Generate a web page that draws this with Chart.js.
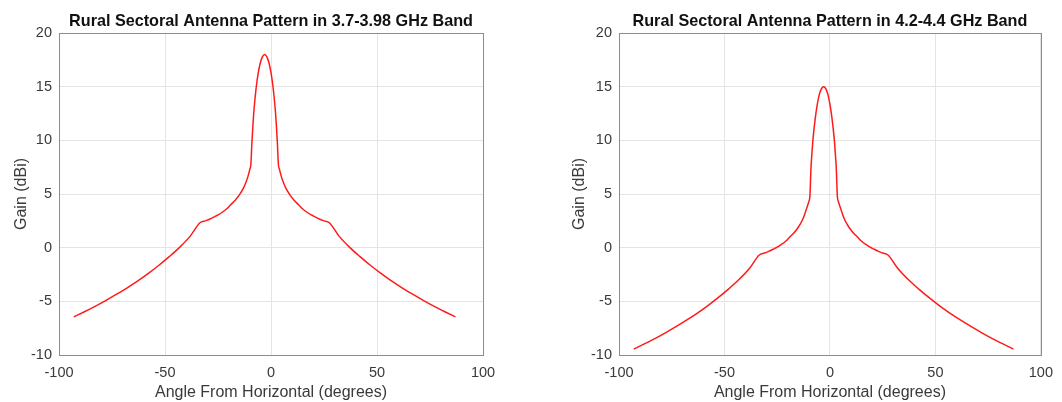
<!DOCTYPE html>
<html lang="en">

<head>
    <meta charset="UTF-8">
    <script src="https://cdn.jsdelivr.net/npm/chart.js"></script>
    <title>Rural Sectoral Antenna Pattern</title>
    <style>
        body { margin: 0; background: #fff; }
        .painel { position: absolute; top: 0; width: 531px; height: 402px; }
    </style>
</head>

<body>
    <div class="painel" style="left:0"><canvas id="chartLow" width="531" height="402"></canvas></div>
    <div class="painel" style="left:531px"><canvas id="chartHigh" width="531" height="402"></canvas></div>

<script>
    // elevation angle (deg), pattern tilted about -3 deg
    const angles = [-93, -88, -83, -78, -73, -68, -63, -58, -53, -48, -43, -38, -33.5,
        -31, -29, -27, -25, -23, -21, -19, -17, -15, -13, -12, -11, -10, -9.5, -9, -8.5, -8,
        -7, -6, -5, -4, -3, -2, -1, 0, 1, 2, 2.5, 3, 3.5, 4, 5, 6, 7,
        9, 11, 13, 15, 17, 19, 21, 23, 25, 27.5, 32, 37, 42, 47, 52, 57, 62, 67, 72, 77, 82, 87];

    // gain in dBi, 3.7-3.98 GHz
    const gainLow = [-6.45, -5.97, -5.47, -4.93, -4.36, -3.76, -3.12, -2.42, -1.66, -0.84, 0.05, 1.1, 2.32,
        2.5, 2.65, 2.85, 3.05, 3.3, 3.6, 4.0, 4.4, 4.9, 5.55, 6.0, 6.55, 7.3, 7.75, 9.8, 11.5, 12.9,
        14.9, 16.3, 17.25, 17.8, 18.0, 17.8, 17.25, 16.3, 14.9, 12.9, 11.5, 9.8, 7.75, 7.3, 6.55, 6.0, 5.55,
        4.9, 4.4, 4.0, 3.6, 3.3, 3.05, 2.85, 2.65, 2.5, 2.32, 1.1, 0.05, -0.84, -1.66, -2.42, -3.12, -3.76, -4.36, -4.93, -5.47, -5.97, -6.45];

    // gain in dBi, 4.2-4.4 GHz
    const gainHigh = [-9.45, -8.97, -8.47, -7.93, -7.36, -6.76, -6.12, -5.42, -4.66, -3.84, -2.95, -1.9, -0.68,
        -0.5, -0.35, -0.15, 0.05, 0.3, 0.6, 1.0, 1.4, 1.9, 2.6, 3.1, 3.7, 4.3, 4.8, 7.4, 8.9, 10.2,
        12.0, 13.35, 14.3, 14.82, 15.0, 14.82, 14.3, 13.35, 12.0, 10.2, 8.9, 7.4, 4.8, 4.3, 3.7, 3.1, 2.6,
        1.9, 1.4, 1.0, 0.6, 0.3, 0.05, -0.15, -0.35, -0.5, -0.68, -1.9, -2.95, -3.84, -4.66, -5.42, -6.12, -6.76, -7.36, -7.93, -8.47, -8.97, -9.45];

    const xTicks = [-100, -50, 0, 50, 100];
    const yTicks = [-10, -5, 0, 5, 10, 15, 20];

    const corTexto = '#3a3a3a';
    const corGrade = '#e4e4e4';
    const fonte = 'Arial, "Liberation Sans", Helvetica, sans-serif';

    // moldura fechada em volta da area do grafico + titulo centrado nos eixos
    const moldura = {
        id: 'moldura',
        afterDraw(chart, args, opts) {
            const a = chart.chartArea;
            const ctx = chart.ctx;
            ctx.save();
            ctx.strokeStyle = '#8c8c8c';
            ctx.lineWidth = 1;
            ctx.strokeRect(Math.round(a.left) + 0.5, Math.round(a.top) + 0.5,
                Math.round(a.right - a.left), Math.round(a.bottom - a.top));

            ctx.fillStyle = '#111';
            ctx.font = 'bold 16.2px ' + fonte;
            ctx.textAlign = 'center';
            ctx.textBaseline = 'middle';
            ctx.fillText(opts.texto, (a.left + a.right) / 2, 22);
            ctx.restore();
        }
    };

    function plotarPadrao(idCanvas, titulo, ganhos, larguraY, margemDir, padTituloY) {
        const pontos = angles.map((a, i) => ({ x: a, y: ganhos[i] }));

        return new Chart(document.getElementById(idCanvas), {
            type: 'line',
            data: {
                datasets: [{
                    data: pontos,
                    borderColor: '#ff1a1a',
                    borderWidth: 1.5,
                    pointRadius: 0,
                    cubicInterpolationMode: 'monotone',
                    fill: false
                }]
            },
            options: {
                responsive: false,
                animation: false,
                layout: { padding: { left: 0, right: margemDir, top: 33, bottom: 0 } },
                plugins: {
                    legend: { display: false },
                    tooltip: { enabled: false },
                    title: { display: false },
                    moldura: { texto: titulo }
                },
                scales: {
                    x: {
                        type: 'linear',
                        min: -100,
                        max: 100,
                        afterBuildTicks: s => { s.ticks = xTicks.map(v => ({ value: v })); },
                        afterFit: s => { s.height = 47; },
                        grid: { color: corGrade, drawTicks: false },
                        border: { display: false },
                        ticks: { color: corTexto, padding: 9, font: { family: fonte, size: 14.5 } },
                        title: {
                            display: true,
                            text: 'Angle From Horizontal (degrees)',
                            color: corTexto,
                            font: { family: fonte, size: 16 },
                            padding: { top: 0, bottom: 0 }
                        }
                    },
                    y: {
                        type: 'linear',
                        min: -10,
                        max: 20,
                        afterBuildTicks: s => { s.ticks = yTicks.map(v => ({ value: v })); },
                        afterFit: s => { s.width = larguraY; },
                        grid: { color: corGrade, drawTicks: false },
                        border: { display: false },
                        ticks: { color: corTexto, padding: 7, font: { family: fonte, size: 14.5 } },
                        title: {
                            display: true,
                            text: 'Gain (dBi)',
                            color: corTexto,
                            font: { family: fonte, size: 16 },
                            padding: { top: padTituloY, bottom: 0 }
                        }
                    }
                }
            },
            plugins: [moldura]
        });
    }

    plotarPadrao('chartLow', 'Rural Sectoral Antenna Pattern in 3.7-3.98 GHz Band', gainLow, 59, 48, 12);
    plotarPadrao('chartHigh', 'Rural Sectoral Antenna Pattern in 4.2-4.4 GHz Band', gainHigh, 88, 20, 39);
</script>
</body>

</html>
